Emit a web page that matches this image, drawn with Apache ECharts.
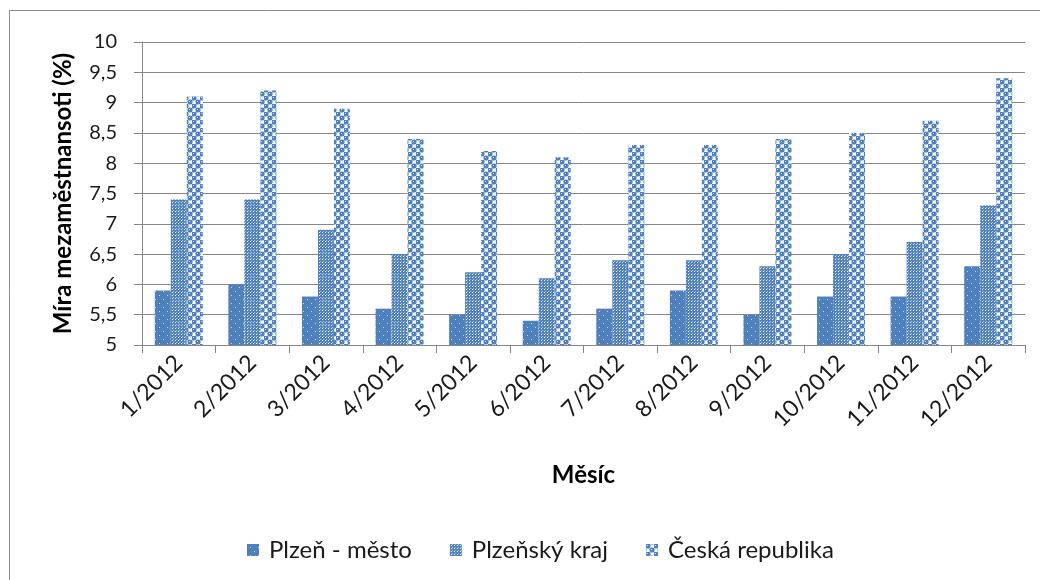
<!DOCTYPE html>
<html><head><meta charset="utf-8">
<script src="https://cdn.jsdelivr.net/npm/echarts@6/dist/echarts.min.js"></script>
<style>html,body{margin:0;padding:0;background:#fff}#c{width:1040px;height:580px}</style>
</head><body><div id="c"></div>
<script>
const categories = ['1/2012','2/2012','3/2012','4/2012','5/2012','6/2012','7/2012','8/2012','9/2012','10/2012','11/2012','12/2012'];
const plzenMesto = [5.9, 6.0, 5.8, 5.6, 5.5, 5.4, 5.6, 5.9, 5.5, 5.8, 5.8, 6.3];
const plzenskyKraj = [7.4, 7.4, 6.9, 6.5, 6.2, 6.1, 6.4, 6.4, 6.3, 6.5, 6.7, 7.3];
const ceskaRepublika = [9.1, 9.2, 8.9, 8.4, 8.2, 8.1, 8.3, 8.3, 8.4, 8.5, 8.7, 9.4];
const seriesNames = ['Plzeň - město', 'Plzeňský kraj', 'Česká republika'];

const BLUE = '#4f81bd';
function pat1(){
  const c=document.createElement('canvas');c.width=8;c.height=8;const g=c.getContext('2d');
  g.fillStyle=BLUE;g.fillRect(0,0,8,8);
  g.fillStyle='#c9d8ec';g.fillRect(3,3,1,1);g.fillRect(7,7,1,1);
  return c;
}
function pat2(){
  const c=document.createElement('canvas');c.width=3;c.height=3;const g=c.getContext('2d');
  g.fillStyle=BLUE;g.fillRect(0,0,3,3);
  g.fillStyle='#ffffff';g.fillRect(1,1,1,1);
  g.fillStyle='#a9c0de';g.fillRect(2,0,1,1);
  return c;
}
function pat3(){
  const c=document.createElement('canvas');c.width=8;c.height=8;const g=c.getContext('2d');
  g.fillStyle='#ffffff';g.fillRect(0,0,8,8);
  g.fillStyle=BLUE;
  [[2,2],[6,6],[-2,6],[6,-2],[10,6],[6,10],[-2,-2],[10,10],[-2,10],[10,-2]].forEach(p=>{g.beginPath();g.arc(p[0],p[1],2.6,0,Math.PI*2);g.fill();});
  g.fillStyle='#dfe8f4';g.fillRect(1,1,1,1);g.fillRect(5,5,1,1);
  return c;
}
const pats=[pat1(),pat2(),pat3()];
const FONT='Lato';
const chart=echarts.init(document.getElementById('c'),null,{renderer:'canvas'});
const datas=[plzenMesto,plzenskyKraj,ceskaRepublika];
chart.setOption({
  animation:false,
  textStyle:{fontFamily:FONT},
  graphic:[{type:'rect',shape:{x:9.5,y:10.5,width:1040,height:600},style:{fill:'none',stroke:'#8c8c8c',lineWidth:1},silent:true}],
  grid:{left:142,right:15,top:42,bottom:235},
  legend:{top:533,left:242,itemWidth:12,itemHeight:12,itemGap:38,
    textStyle:{fontSize:24,color:'#1a1a1a',fontFamily:FONT,padding:[0,0,0,5]},
    data:seriesNames.map((n,i)=>({name:n,icon:'rect',itemStyle:{color:{image:pats[i],repeat:'repeat'}}}))},
  xAxis:{type:'category',data:categories,
    name:'Měsíc',nameLocation:'middle',nameGap:118,
    nameTextStyle:{fontSize:24,fontWeight:'bold',color:'#000',fontFamily:FONT},
    axisLine:{lineStyle:{color:'#868686',width:1}},
    axisTick:{show:true,length:8,lineStyle:{color:'#868686'}},
    axisLabel:{rotate:45,fontSize:23,color:'#1a1a1a',margin:14,fontFamily:FONT}},
  yAxis:{type:'value',min:5,max:10,interval:0.5,
    name:'Míra mezaměstnansoti (%)',nameLocation:'middle',nameGap:67,nameRotate:90,
    nameTextStyle:{fontSize:24,fontWeight:'bold',color:'#000',fontFamily:FONT},
    axisLine:{show:true,lineStyle:{color:'#868686'}},
    axisTick:{show:true,length:8,inside:false,lineStyle:{color:'#868686'}},
    splitLine:{lineStyle:{color:'#868686',width:1}},
    axisLabel:{fontSize:20,color:'#1a1a1a',margin:25,fontFamily:FONT,formatter:v=>String(v).replace('.',',')}},
  series:seriesNames.map((n,i)=>({name:n,type:'bar',data:datas[i],barWidth:16,barGap:'0%',
    itemStyle:{color:{image:pats[i],repeat:'repeat'}}}))
});
</script></body></html>
